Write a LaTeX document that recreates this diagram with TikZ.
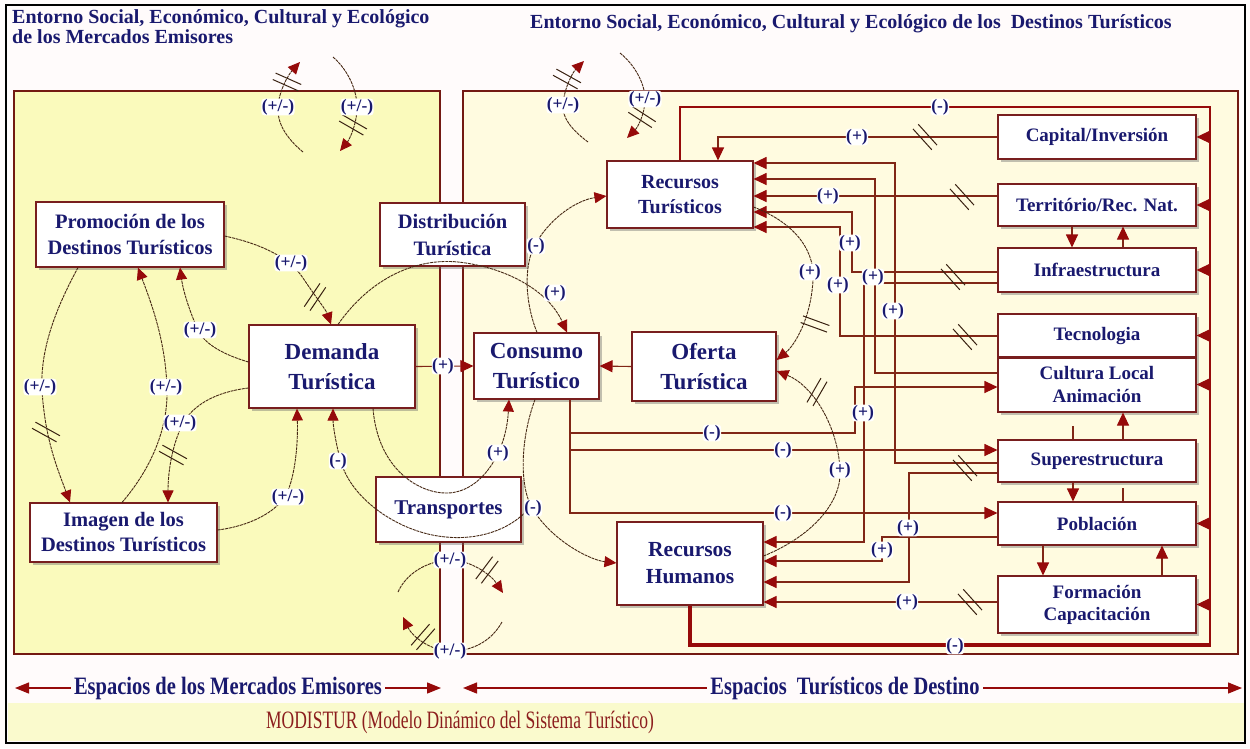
\documentclass[tikz,border=0pt]{standalone}
\usepackage{fontspec}
\setmainfont{Liberation Serif}
\newfontfamily\condfont[FakeStretch=0.82]{Liberation Serif}
\newfontfamily\narrowfont[FakeStretch=0.7]{Liberation Serif}
\usetikzlibrary{arrows.meta,shadows}
\definecolor{navy}{RGB}{25,25,110}
\definecolor{boxred}{RGB}{120,30,30}
\definecolor{linered}{RGB}{128,38,22}
\definecolor{arrowred}{RGB}{150,10,10}
\definecolor{curvebrown}{RGB}{70,40,20}
\definecolor{lefty}{RGB}{250,250,188}
\definecolor{righty}{RGB}{255,251,224}
\definecolor{pagebg}{RGB}{255,251,251}
\definecolor{bandy}{RGB}{250,250,205}
\definecolor{panelred}{RGB}{115,25,18}
\definecolor{modred}{RGB}{140,30,30}
\newcommand{\dlymark}[2]{\begin{scope}[shift={#1},rotate=#2]\draw[markst] (-14,-3.5) -- (14,-3.5) (-14,3.5) -- (14,3.5);\end{scope}}
\begin{document}
\begin{tikzpicture}[x=1pt,y=-1pt,
  box/.style={draw=boxred, line width=1.1pt, fill=white, text=navy, align=center, inner sep=0pt,
    drop shadow={shadow xshift=2.5pt,shadow yshift=-2.5pt,fill=black!60,opacity=0.4}},
  conn/.style={draw=linered, line width=1.1pt},
  busline/.style={draw=arrowred, line width=3.2pt},
  curv/.style={draw=curvebrown, line width=0.9pt, dash pattern=on 3pt off 0.8pt},
  tip/.style={-{Triangle[length=13pt,width=12pt,color=arrowred]}},
  ctip/.style={-{Triangle[length=12pt,width=11pt,color=arrowred]}},
  lbl/.style={text=navy, fill=white, inner sep=0.4pt, rounded corners=3pt, font=\bfseries\fontsize{17.5}{18}\selectfont},
  markst/.style={draw=curvebrown!80!black, line width=1pt},
  panel/.style={draw=panelred, line width=2.6pt},
  ttl/.style={text=navy, inner sep=0pt, font=\bfseries\fontsize{20}{22}\selectfont},
  btxt/.style={text=navy, fill=pagebg, inner sep=3pt, font=\condfont\bfseries\fontsize{25}{26}\selectfont},
  rbox/.style={box, minimum width=198pt, font=\bfseries\fontsize{19}{23}\selectfont},
]
\useasboundingbox (0,0) rectangle (1250,748);
\fill[pagebg] (0,0) rectangle (1250,748);
\fill[bandy] (8,703) rectangle (1245,741);
\fill[lefty] (14,91) rectangle (440,654);
\fill[righty] (463,91) rectangle (1238,654);
\draw[panel] (14,91) rectangle (440,654);
\draw[panel] (463,91) rectangle (1238,654);
\draw[black, line width=2pt] (6,5) rectangle (1245,743);

% titles
\node[ttl, anchor=base west] (tl1) at (12,23.5) {Entorno Social, Económico, Cultural y Ecológico};
\node[ttl, anchor=base west] (tl2) at (12,43) {de los Mercados Emisores};
\node[ttl, anchor=base west] (tr1) at (530,28.5) {Entorno Social, Económico, Cultural y Ecológico de los \ Destinos Turísticos};

\coordinate (busx) at (1210,107);

% ---------- boxes ----------
\node[box, minimum width=188pt, minimum height=65pt, font=\bfseries\fontsize{20.5}{26}\selectfont] (prom) at (130,234.5) {Promoción de los\\Destinos Turísticos};
\node[box, minimum width=187pt, minimum height=59pt, font=\bfseries\fontsize{20.5}{25}\selectfont] (img) at (123.5,532.5) {Imagen de los\\Destinos Turísticos};
\node[box, minimum width=166pt, minimum height=83pt, font=\bfseries\fontsize{23}{30}\selectfont] (dem) at (332,366.5) {Demanda\\Turística};
\node[box, minimum width=145pt, minimum height=63pt, font=\bfseries\fontsize{20.5}{27}\selectfont] (dist) at (452.5,234.5) {Distribución\\Turística};
\node[box, minimum width=125pt, minimum height=66pt, font=\bfseries\fontsize{23}{30}\selectfont] (cons) at (536.5,366) {Consumo\\Turístico};
\node[box, minimum width=144pt, minimum height=69pt, font=\bfseries\fontsize{23}{30}\selectfont] (ofer) at (704,366.5) {Oferta\\Turística};
\node[box, minimum width=146pt, minimum height=67pt, font=\bfseries\fontsize{20}{25}\selectfont] (rtur) at (680,194.5) {Recursos\\Turísticos};
\node[box, minimum width=146pt, minimum height=83pt, font=\bfseries\fontsize{21.5}{27}\selectfont] (rhum) at (690,563.5) {Recursos\\Humanos};
\node[box, minimum width=145pt, minimum height=65pt, font=\bfseries\fontsize{21}{25}\selectfont] (trans) at (448.5,509.5) {Transportes};
\node[rbox, minimum height=44pt] (cap) at (1097,137) {Capital/Inversión};
\node[rbox, minimum height=42pt] (terr) at (1097,205) {Território/Rec. Nat.};
\node[rbox, minimum height=44pt] (infra) at (1097,270) {Infraestructura};
\node[rbox, minimum height=43pt] (tec) at (1097,335.5) {Tecnologia};
\node[rbox, minimum height=55pt, font=\bfseries\fontsize{19}{23}\selectfont] (cult) at (1097,384.5) {Cultura Local\\Animación};
\node[rbox, minimum height=42pt] (sup) at (1097,461) {Superestructura};
\node[rbox, minimum height=43pt] (pob) at (1097,523.5) {Población};
\node[rbox, minimum height=57pt, font=\bfseries\fontsize{19}{22}\selectfont] (form) at (1097,604.5) {Formación\\Capacitación};
\draw[boxred, line width=2.4pt] (tec.south west) -- (tec.south east);

% ---------- straight connectors (right side) ----------
\draw[conn,tip] (cap.west) -- (718,137) -- (rtur.north -| 718,0);
\draw[busline] (rhum.south) -- (690,645) -- (1211,645);
\draw[draw=arrowred, line width=2pt] (1210,646) -- (busx) -- (680,107) -- (rtur.north -| 680,0);
\foreach \n in {cap,terr,infra,tec,cult,pob,form} \draw[conn,tip] (\n.east -| busx) -- (\n.east);
\draw[conn,tip] (sup.west |- 0,463) -- (895,463) -- (895,163) -- (rtur.east |- 0,163);
\draw[conn,tip] (cult.west |- 0,373) -- (875,373) -- (875,179) -- (rtur.east |- 0,179);
\draw[conn,tip] (terr.west |- 0,196) -- (rtur.east |- 0,196);
\draw[conn,tip] (infra.west |- 0,272) -- (852,272) -- (852,212) -- (rtur.east |- 0,212);
\draw[conn,tip] (tec.west |- 0,336) -- (840,336) -- (840,227) -- (rtur.east |- 0,227);
\draw[conn,tip] (infra.west |- 0,283) -- (864,283) -- (864,542) -- (rhum.east |- 0,542);
\draw[conn,tip] (pob.west |- 0,537) -- (882,537) -- (882,561) -- (rhum.east |- 0,561);
\draw[conn,tip] (sup.west |- 0,473) -- (909,473) -- (909,582) -- (rhum.east |- 0,582);
\draw[conn,tip] (form.west |- 0,602) -- (rhum.east |- 0,602);
\draw[conn,tip] (cons.south -| 570,0) -- (570,513) -- (pob.west |- 0,513);
\draw[conn,tip] (570,450) -- (sup.west |- 0,450);
\draw[conn,tip] (570,433) -- (855,433) -- (855,387) -- (cult.west |- 0,387);
% between right boxes
\draw[conn,tip] (terr.south -| 1072,0) -- (infra.north -| 1072,0);
\draw[conn,tip] (infra.north -| 1123,0) -- (terr.south -| 1123,0);
\draw[conn,tip] (sup.north -| 1123,0) -- (cult.south -| 1123,0);
\draw[conn] (sup.north -| 1073,0) -- ++(0,-13);
\draw[conn,tip] (sup.south -| 1073,0) -- (pob.north -| 1073,0);
\draw[conn] (pob.north -| 1123,0) -- ++(0,-13);
\draw[conn,tip] (pob.south -| 1043,0) -- (form.north -| 1043,0);
\draw[conn,tip] (form.north -| 1162,0) -- (pob.south -| 1162,0);
% middle
\draw[conn,tip] (dem.east) -- (cons.west);
\draw[conn,tip] (ofer.west) -- (cons.east);

% ---------- curves ----------
\draw[curv,ctip] (rtur.east |- 0,207) .. controls (800,225) and (815,255) .. (813,280) .. controls (811,318) and (795,345) .. (ofer.east |- 0,360);
\draw[curv,ctip] (rhum.east |- 0,556) .. controls (815,535) and (842,500) .. (840,470) .. controls (838,425) and (812,385) .. (ofer.east |- 0,371);
\draw[curv,ctip] (cons.north -| 537,0) .. controls (524,300) and (524,262) .. (536,243) .. controls (552,216) and (578,200) .. (rtur.west |- 0,196);
\draw[curv,ctip] (dem.north -| 338,0) .. controls (372,276) and (418,258) .. (458,262) .. controls (505,267) and (548,290) .. (cons.north -| 567,0);
\draw[curv,ctip] (prom.east |- 0,236) .. controls (262,244) and (290,258) .. (303,278) .. controls (315,296) and (326,310) .. (dem.north -| 331,0);
\draw[curv,ctip] (dem.west |- 0,362) .. controls (225,355) and (205,345) .. (198,330) .. controls (189,310) and (183,290) .. (prom.south -| 180,0);
\draw[curv,ctip] (prom.south -| 78,0) .. controls (55,310) and (40,350) .. (42,390) .. controls (45,440) and (58,470) .. (img.north -| 70,0);
\draw[curv,ctip] (img.north -| 122,0) .. controls (150,470) and (168,430) .. (167,390) .. controls (166,340) and (150,300) .. (prom.south -| 138,0);
\draw[curv,ctip] (dem.west |- 0,388) .. controls (215,392) and (195,405) .. (185,420) .. controls (173,440) and (168,470) .. (img.north -| 168,0);
\draw[curv,ctip] (img.east |- 0,530) .. controls (250,526) and (276,512) .. (286,495) .. controls (296,475) and (298,440) .. (dem.south -| 297,0);
\draw[curv,ctip] (dem.south -| 373,0) .. controls (378,470) and (420,494) .. (448,493) .. controls (480,492) and (506,455) .. (cons.south -| 509,0);
\coordinate (kx) at (531,506);
\draw[curv,ctip] (cons.south -| 535,0) .. controls (520,440) and (520,485) .. (kx) .. controls (550,540) and (590,560) .. (rhum.west |- 0,563);
\draw[curv,ctip] (kx) .. controls (510,532) and (475,540) .. (446,537) .. controls (400,533) and (352,500) .. (341,462) .. controls (336,445) and (333,425) .. (dem.south -| 333,0);
% environment arcs
\coordinate (t1a) at (303,152); \coordinate (t1b) at (300,62);
\coordinate (t2a) at (333,57);  \coordinate (t2b) at (340,151);
\coordinate (t3a) at (588,142); \coordinate (t3b) at (584,61);
\coordinate (t4a) at (620,53);  \coordinate (t4b) at (627,138);
\coordinate (b1a) at (398,592); \coordinate (b1b) at (503,593);
\coordinate (b2a) at (502,622); \coordinate (b2b) at (403,617);
\draw[curv,ctip] (t1a) .. controls (285,137) and (277,122) .. (278,107) .. controls (279,90) and (289,74) .. (t1b);
\draw[curv,ctip] (t2a) .. controls (348,70) and (357,90) .. (357,107) .. controls (357,125) and (349,140) .. (t2b);
\draw[curv,ctip] (t3a) .. controls (572,130) and (562,118) .. (563,105) .. controls (564,88) and (573,72) .. (t3b);
\draw[curv,ctip] (t4a) .. controls (635,65) and (645,84) .. (645,99) .. controls (645,115) and (637,128) .. (t4b);
\draw[curv,ctip] (b1a) .. controls (406,574) and (426,561) .. (450,560) .. controls (471,560) and (491,575) .. (b1b);
\draw[curv,ctip] (b2a) .. controls (492,640) and (474,651) .. (451,651) .. controls (430,651) and (412,636) .. (b2b);

% ---------- delay marks ----------
\dlymark{(925,137)}{-48}
\dlymark{(962,197)}{-48}
\dlymark{(953,277)}{-48}
\dlymark{(965,337)}{-48}
\dlymark{(965,468)}{-48}
\dlymark{(970,602)}{-48}
\dlymark{(815,324)}{-20}
\dlymark{(817,392)}{60}
\dlymark{(315,297)}{56}
\dlymark{(46,432)}{-29}
\dlymark{(173,455)}{-29}
\dlymark{(287,82)}{-24}
\dlymark{(353,125)}{-30}
\dlymark{(567,79)}{-29}
\dlymark{(642,117)}{-33}
\dlymark{(487,570)}{53}
\dlymark{(423,637)}{49}

% ---------- labels ----------
\node[lbl] at (291,263) {(+/-)};
\node[lbl] at (200,330) {(+/-)};
\node[lbl] at (40,387) {(+/-)};
\node[lbl] at (166,387) {(+/-)};
\node[lbl] at (180,423) {(+/-)};
\node[lbl] at (288,497) {(+/-)};
\node[lbl] at (338,461) {(-)};
\node[lbl] at (443,366) {(+)};
\node[lbl] at (498,453) {(+)};
\node[lbl] at (533,508) {(-)};
\node[lbl] at (536,246) {(-)};
\node[lbl] at (555,293) {(+)};
\node[lbl] at (278,107) {(+/-)};
\node[lbl] at (357,107) {(+/-)};
\node[lbl] at (563,105) {(+/-)};
\node[lbl] at (645,99) {(+/-)};
\node[lbl] at (450,560) {(+/-)};
\node[lbl] at (450,651) {(+/-)};
\node[lbl] at (940,107) {(-)};
\node[lbl] at (955,646) {(-)};
\node[lbl] at (857,137) {(+)};
\node[lbl] at (828,196) {(+)};
\node[lbl] at (850,243) {(+)};
\node[lbl] at (810,272) {(+)};
\node[lbl] at (873,277) {(+)};
\node[lbl] at (838,285) {(+)};
\node[lbl] at (893,311) {(+)};
\node[lbl] at (863,413) {(+)};
\node[lbl] at (840,470) {(+)};
\node[lbl] at (908,528) {(+)};
\node[lbl] at (882,550) {(+)};
\node[lbl] at (907,602) {(+)};
\node[lbl] at (712,433) {(-)};
\node[lbl] at (783,450) {(-)};
\node[lbl] at (783,513) {(-)};

% ---------- bottom ----------
\coordinate (e1) at (15,688); \coordinate (e2) at (441,688);
\coordinate (e3) at (463,688); \coordinate (e4) at (1242,688);
\draw[draw=arrowred, line width=1.3pt, {Triangle[length=14pt,width=11pt,color=arrowred]}-{Triangle[length=14pt,width=11pt,color=arrowred]}] (e1) -- (e2);
\draw[draw=arrowred, line width=1.3pt, {Triangle[length=14pt,width=11pt,color=arrowred]}-{Triangle[length=14pt,width=11pt,color=arrowred]}] (e3) -- (e4);
\node[btxt] (s1) at (228,688) {Espacios de los Mercados Emisores};
\node[btxt] (s2) at (845,688) {Espacios\ \ Turísticos de Destino};
\node[text=modred, font=\narrowfont\fontsize{25}{27}\selectfont] (mod) at (460,722) {MODISTUR (Modelo Dinámico del Sistema Turístico)};
\end{tikzpicture}
\end{document}
